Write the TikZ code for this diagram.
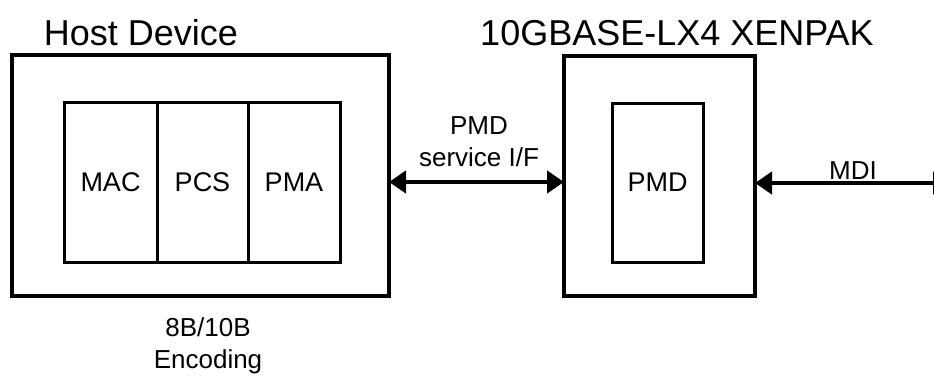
\documentclass[tikz,border=0pt]{standalone}
\usepackage{fontspec}
\setmainfont{Liberation Sans}
\usetikzlibrary{arrows.meta}
\begin{document}
\tikzset{
  outerbox/.style={draw, line width=3.6pt, minimum width=#1, inner sep=0pt, outer sep=0pt},
  innerbox/.style={draw, line width=3pt, inner sep=0pt, outer sep=0pt, font=\fontsize{27}{32}\selectfont},
  title/.style={font=\fontsize{36}{40}\selectfont, inner sep=0pt},
  lbl/.style={font=\fontsize{26}{32}\selectfont, align=center, inner sep=0pt},
  link/.style={line width=4.5pt, {Triangle[length=17pt,width=22pt]}-{Triangle[length=17pt,width=22pt]}}
}
\begin{tikzpicture}[x=1pt,y=-1pt]
\useasboundingbox (0,0) rectangle (934,378);
\clip (0,0) rectangle (934,378);
% Host device
\node[outerbox=377, minimum height=241] (host) at (200.5,175.5) {};
\node[innerbox, minimum width=93, minimum height=160] (mac) at (110.5,182) {MAC};
\node[innerbox, minimum width=91, minimum height=160] (pcs) at (202.5,182) {PCS};
\node[innerbox, minimum width=92, minimum height=160] (pma) at (294,182) {PMA};
\node[title] (hosttitle) at (141,33) {Host Device};
\node[lbl] (enc) at (208,346) {8B/10B\\Encoding};
% XENPAK
\node[outerbox=191, minimum height=240] (xen) at (659.5,176) {};
\node[innerbox, minimum width=91, minimum height=159] (pmd) at (657.5,182.5) {PMD};
\node[title] (xentitle) at (677,33) {10GBASE-LX4 XENPAK};
% connectors
\draw[link] (host.east |- pma.center) -- (xen.west |- pma.center);
\node[lbl] (pmdif) at (479,142) {PMD\\service I/F};
\coordinate (mdiend) at (950,183);
\draw[link] (xen.east |- mdiend) -- (mdiend);
\node[lbl] (mdi) at (853,171) {MDI};
\end{tikzpicture}
\end{document}
